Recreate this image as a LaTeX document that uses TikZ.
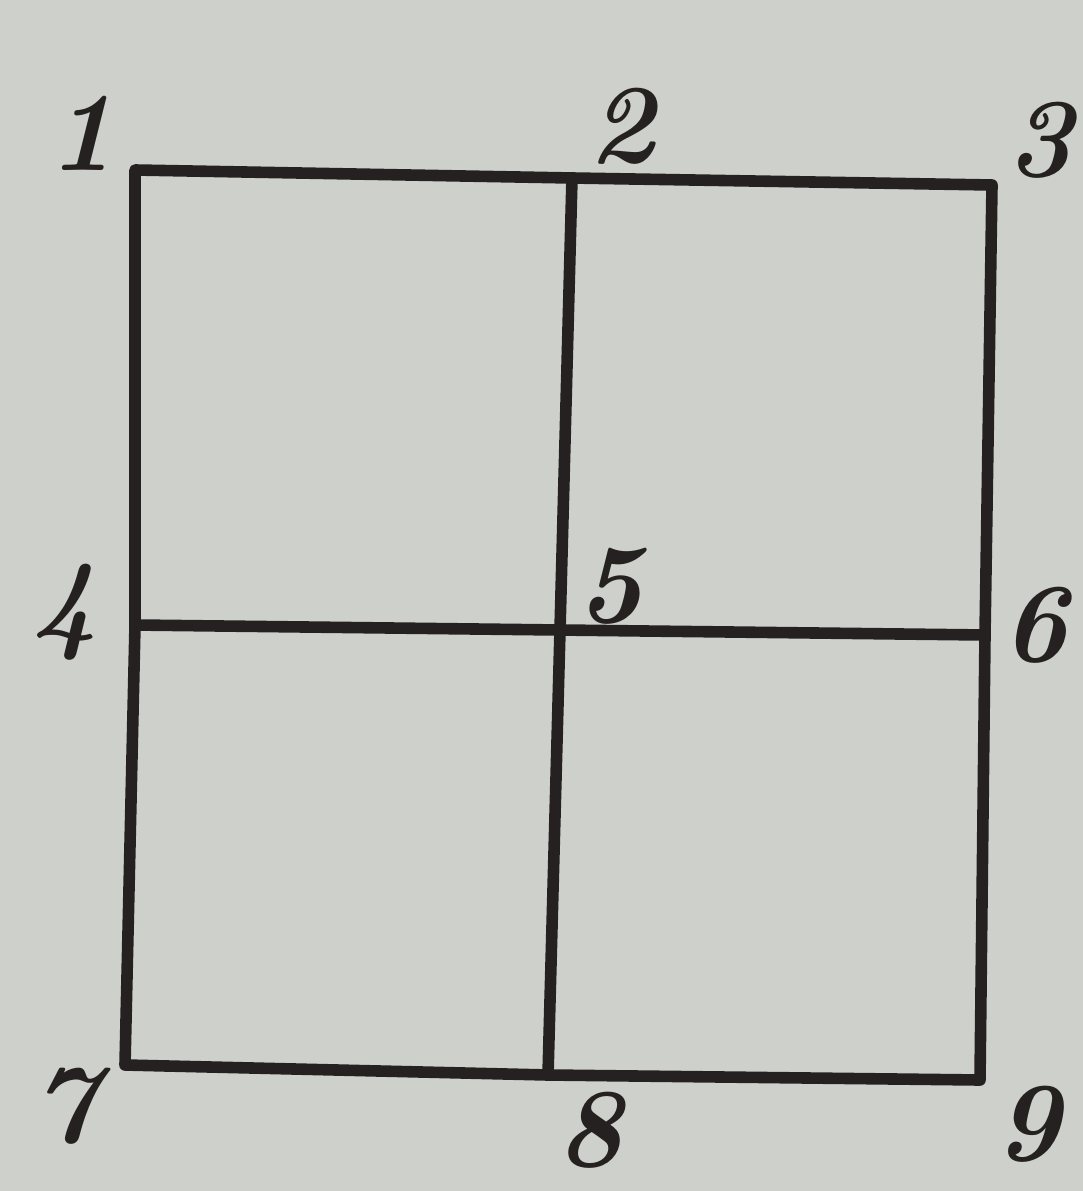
\documentclass[tikz,border=0pt]{standalone}
\usepackage{xcolor}
\usepackage{tikz}
\usetikzlibrary{positioning}
\definecolor{paper}{RGB}{206, 208, 204}
\definecolor{ink}{RGB}{38, 33, 33}

\begin{document}
\begin{tikzpicture}[
    x=0.01cm, y=-0.01cm,
    edge/.style={draw=ink, line width=3.3pt, line cap=round, line join=round},
    num/.style={text=ink, font=\fontsize{32}{34}\selectfont\itshape\bfseries, inner sep=2pt}
]

% paper
\fill[paper] (0,0) rectangle (1083,1191);
\useasboundingbox (0,0) rectangle (1083,1191);

% grid points
\coordinate (p1) at (135,170);
\coordinate (p2) at (572,178);
\coordinate (p3) at (992,185);
\coordinate (p4) at (135,625);
\coordinate (p5) at (560,630);
\coordinate (p6) at (985,635);
\coordinate (p7) at (125,1065);
\coordinate (p8) at (548,1075);
\coordinate (p9) at (980,1080);

% labels
\node[num] (n1) at (82,133) {1};
\node[num] (n2) at (622,126) {2};
\node[num] (n3) at (1040,140) {3};
\node[num] (n4) at (65,612) {4};
\node[num] (n5) at (610,586) {5};
\node[num] (n6) at (1035,625) {6};
\node[num] (n7) at (65,1106) {7};
\node[num] (n8) at (590,1130) {8};
\node[num] (n9) at (1028,1124) {9};

% outer frame
\draw[edge] (p1) -- (p2) -- (p3) -- (p6) -- (p9) -- (p8) -- (p7) -- (p4) -- cycle;

% inner cross
\draw[edge] (p2) -- (p5) -- (p8);
\draw[edge] (p4) -- (p5) -- (p6);

\end{tikzpicture}
\end{document}
